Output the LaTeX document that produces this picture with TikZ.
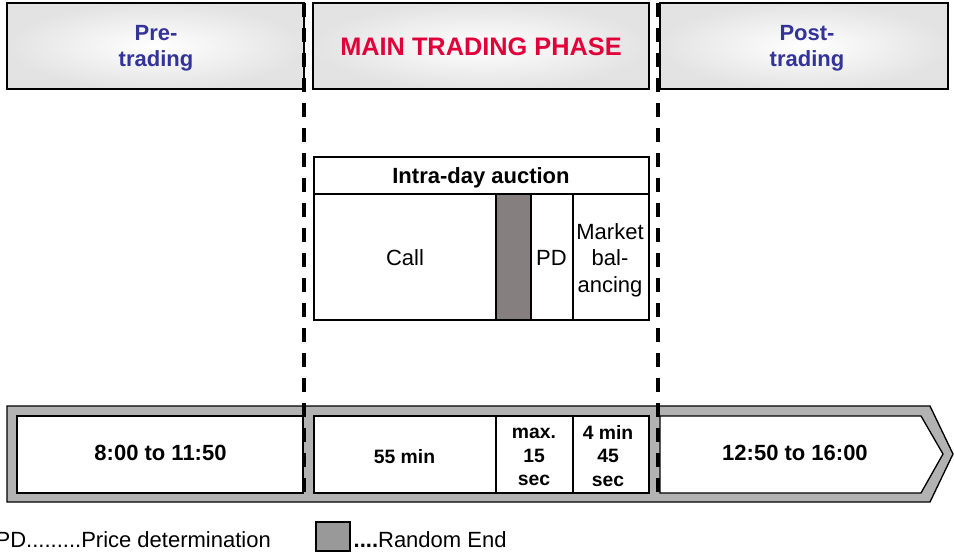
\documentclass[tikz,border=0pt]{standalone}
\usepackage{fontspec}
\setmainfont{Liberation Sans}
\definecolor{phaseblue}{RGB}{51,51,153}
\definecolor{phasered}{RGB}{226,0,58}
\definecolor{bandgray}{RGB}{178,178,178}
\definecolor{endgray}{RGB}{133,127,127}
\definecolor{keygray}{RGB}{153,153,153}
\begin{document}
\begin{tikzpicture}[x=0.75pt,y=-0.75pt,line width=1pt,
 big/.style={font=\fontsize{16.5}{19.5}\selectfont,align=center,inner sep=0pt},
 small/.style={font=\bfseries\fontsize{14.5}{17.4}\selectfont,align=center,inner sep=0pt},
 phasebox/.style={draw,shade,shading=radial,inner color=white,outer color=black!11},
 cut/.style={line width=2.8pt,dash pattern=on 10.5pt off 8.25pt}]
\useasboundingbox(0,0)rectangle(954,556);
\foreach\a/\b in{7/304,313/649,660/948}{\path[phasebox](\a,3)rectangle(\b,89);}
\node[big,font=\bfseries\fontsize{16.5}{19.5}\selectfont,text=phaseblue](pre)at(156,48.5){Pre-\\trading};
\node[big,font=\bfseries\fontsize{19}{22}\selectfont,text=phasered](main)at(481,46.5){MAIN TRADING PHASE};
\node[big,font=\bfseries\fontsize{16.5}{19.5}\selectfont,text=phaseblue](post)at(807,48.5){Post-\\trading};
% intra-day auction
\draw[fill=white](314,157)rectangle(649,320);\draw(314,194)--(649,194);
\draw[fill=endgray](496,194)rectangle(531,320);\draw(573,194)--(573,320);
\node[big,font=\bfseries\fontsize{16.5}{19.5}\selectfont,anchor=base](auction)at(481,184){Intra-day auction};
\node[big,anchor=base](call)at(405,266){Call};
\node[big,anchor=base](pd)at(551.5,266){PD};
\node[big,font=\fontsize{16.5}{19.9}\selectfont](mb)at(610,260){Market\\bal-\\ancing};
% time band
\draw[fill=bandgray](7,406)--(930,406)--(953,454)--(930,502)--(7,502)--cycle;
\draw[fill=white](17,416)rectangle(303,493);\draw[fill=white](314,416)rectangle(649,493);
\foreach\x in{496,573}{\draw(\x,416)--(\x,493);}
\draw[fill=white](660,416)--(921,416)--(943,454)--(921,493)--(660,493)--cycle;
\node[big,font=\bfseries\fontsize{16.5}{19.5}\selectfont](tpre)at(160.5,453){8:00 to 11:50};
\node[small](tcall)at(404.5,456.5){55 min};
\node[small](tpd)at(534,457){max.\\15\\sec};
\node[small](tmb)at(608,456){4 min\\45\\sec};
\node[big,font=\bfseries\fontsize{16.5}{19.5}\selectfont](tpost)at(795,453){12:50 to 16:00};
\foreach\x in{304,658}{\draw[cut](\x,3)--(\x,500);}
% key
\node[big,anchor=base west](keypd)at(-5,547){PD.........Price determination};
\draw[fill=keygray](316,522)rectangle(350,551);
\node[big,anchor=base west](keyend)at(353,547){\textbf{....}Random End};
\end{tikzpicture}
\end{document}
